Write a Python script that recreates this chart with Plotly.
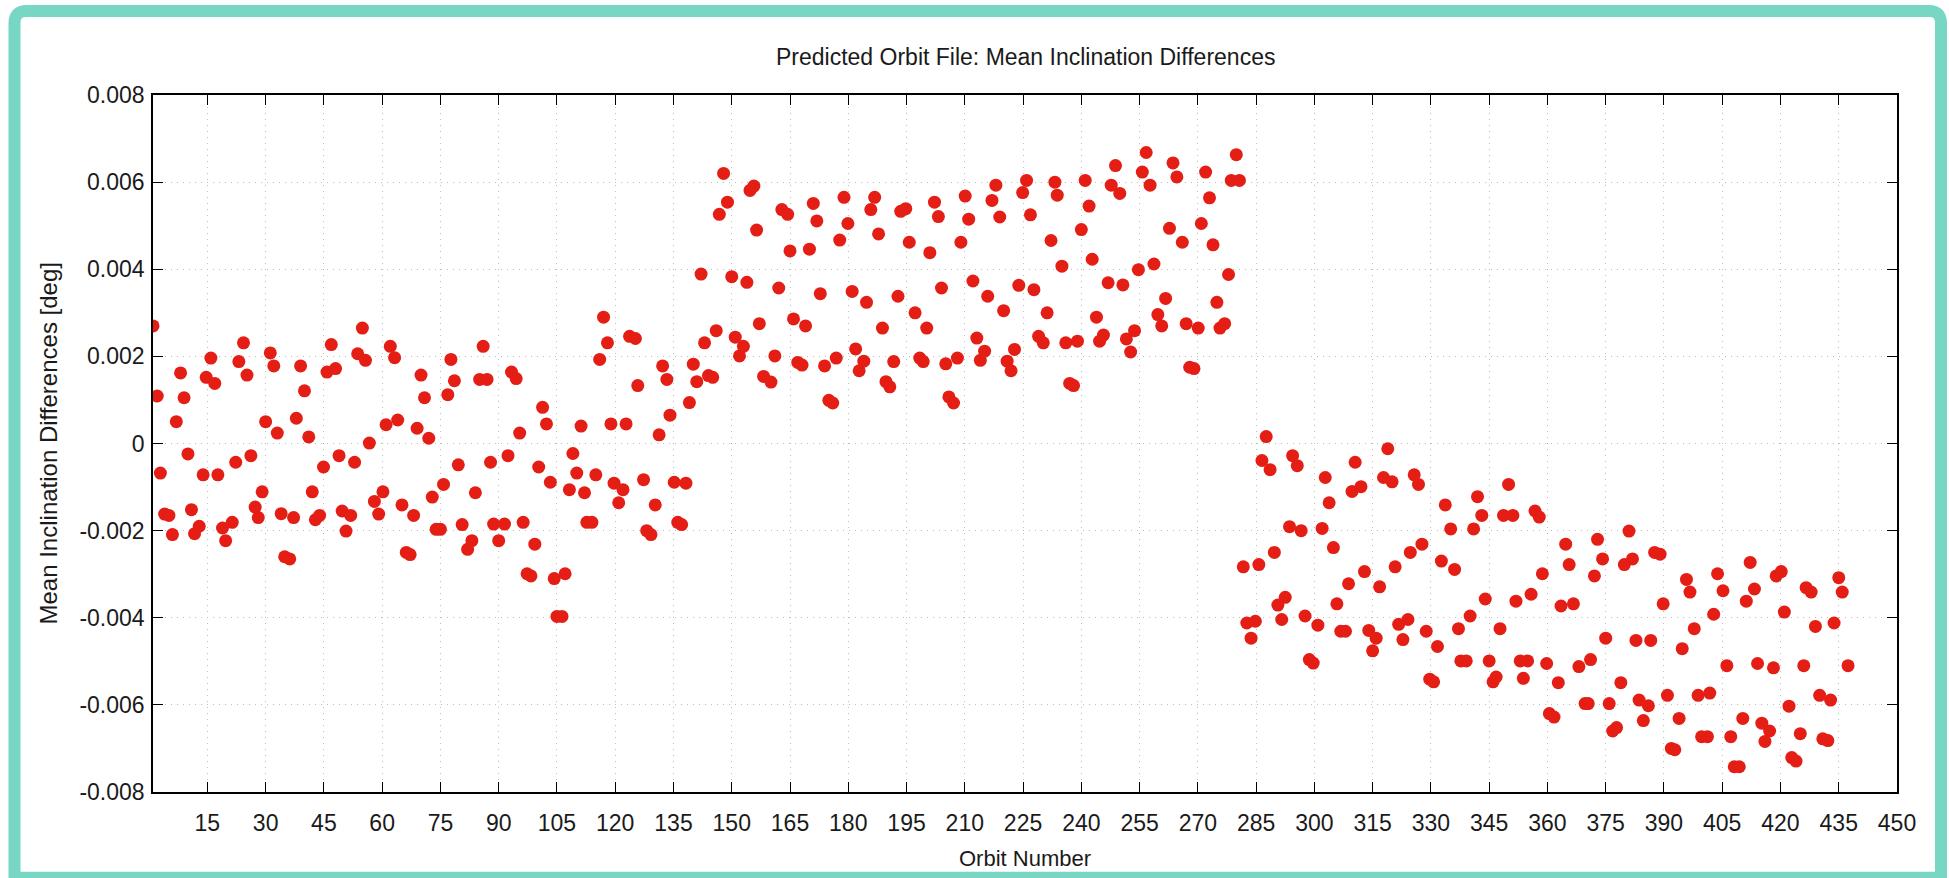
import plotly.graph_objects as go

# ---------------- data ----------------
# orbit number and mean-inclination difference in millidegrees
seg1_orbit = [1.0, 2.1, 2.9, 4.0, 5.1, 6.0, 7.0, 8.1, 9.0, 10.0, 10.9, 11.7, 12.9, 13.9, 14.7,
              15.9, 16.9, 17.7, 18.9, 19.7, 21.4, 22.3, 23.1, 24.3, 25.2, 26.2, 27.3, 28.1, 29.1,
              30.0, 31.2, 32.1, 33.0, 34.0, 34.9, 36.2, 37.2, 37.9, 39.0, 40.0, 41.1, 42.0, 42.8,
              43.9, 44.9, 45.8, 46.9, 48.0, 48.9, 49.7, 50.7, 51.9, 52.9, 53.7, 54.9, 55.7, 56.7,
              58.0, 59.1, 60.2, 61.0, 62.1, 63.2, 64.0, 65.1, 66.2, 67.2, 68.1, 69.0, 70.0, 70.9,
              72.0, 72.9, 73.9, 75.0, 75.8, 76.9, 77.7, 78.6, 79.6, 80.6, 82.0, 83.1, 84.0, 85.1,
              86.0, 87.0, 87.9, 88.7, 90.0, 91.5, 92.4, 93.3, 94.5, 95.4, 96.3, 97.3, 98.3, 99.3,
              100.3, 101.3, 102.3, 103.3, 104.3, 105.0, 106.3, 107.1, 108.2, 109.1, 110.1, 111.2,
              112.1, 112.7, 114.0, 115.0, 116.0, 117.0, 118.0, 118.9, 119.7, 120.9, 122.0, 122.8,
              123.7, 125.2, 125.8, 127.3, 128.1, 129.2, 130.3, 131.3, 132.2, 133.3, 134.1, 135.2,
              136.1, 137.1, 138.2, 139.1, 140.1, 141.0, 142.1, 143.0, 144.0, 145.1, 146.0]
seg1_mdeg = [2.70, 1.09, -0.68, -1.62, -1.65, -2.09, 0.50, 1.62, 1.05, -0.24, -1.52, -2.07, -1.90, -0.72, 1.52,
             1.96, 1.38, -0.72, -1.94, -2.23, -1.81, -0.43, 1.88, 2.31, 1.57, -0.28, -1.46, -1.70, -1.11,
             0.50, 2.08, 1.78, 0.24, -1.61, -2.60, -2.65, -1.70, 0.58, 1.78, 1.21, 0.15, -1.11, -1.75,
             -1.65, -0.54, 1.64, 2.27, 1.72, -0.28, -1.55, -2.01, -1.65, -0.43, 2.06, 2.65, 1.91, 0.01,
             -1.33, -1.62, -1.11, 0.43, 2.23, 1.97, 0.54, -1.41, -2.50, -2.55, -1.65, 0.35, 1.57, 1.05,
             0.12, -1.23, -1.97, -1.97, -0.94, 1.12, 1.93, 1.44, -0.49, -1.86, -2.43, -2.23, -1.13, 1.47,
             2.23, 1.47, -0.43, -1.85, -2.23, -1.85, -0.28, 1.64, 1.49, 0.24, -1.81, -2.99, -3.04, -2.31,
             -0.54, 0.83, 0.45, -0.89, -3.10, -3.97, -3.97, -2.99, -1.06, -0.23, -0.68, 0.40,
             -1.13, -1.81, -1.81, -0.72, 1.93, 2.90, 2.31, 0.45, -0.91, -1.36, -1.06, 0.45,
             2.46, 2.41, 1.33, -0.83, -2.00, -2.09, -1.41, 0.20, 1.78, 1.47, 0.65, -0.89,
             -1.81, -1.86, -0.91, 0.94, 1.82, 1.42, 3.89, 2.31, 1.56, 1.52, 2.59]

seg2_orbit = [146.8, 147.9, 148.9, 150.0, 150.9, 152.0, 153.0, 153.9, 154.7, 155.7, 156.4, 157.1, 158.2,
              160.1, 161.1, 162.1, 162.9, 164.4, 165.0, 165.9, 167.0, 168.1, 169.0, 170.0, 171.0, 171.9,
              172.8, 173.9, 175.0, 176.0, 176.9, 177.8, 178.9, 179.9, 181.0, 181.9, 182.8, 184.0, 184.7,
              185.8, 186.8, 187.8, 188.8, 189.7, 190.7, 191.7, 192.8, 193.5, 194.8, 195.7, 197.2, 198.4,
              199.3, 200.2, 201.0, 202.2, 203.2, 204.0, 205.1, 205.9, 207.1, 208.1, 209.0, 210.1, 211.0,
              212.1, 213.1, 214.0, 215.1, 215.9, 217.0, 218.0, 219.0, 220.0, 220.9, 221.9, 222.8, 223.9,
              224.9, 225.9, 226.9, 227.8, 229.0, 230.2, 231.2, 232.2, 233.2, 233.8, 235.0, 236.0, 237.0,
              238.0, 239.0, 240.0, 241.0, 242.0, 242.8, 243.9, 244.7, 245.7, 246.9, 247.7, 248.8, 249.9,
              250.7, 251.6, 252.7, 253.7, 254.7, 255.7, 256.7, 257.7, 258.7, 259.7, 260.7, 261.7, 262.7,
              263.6, 264.6, 266.0, 267.0, 267.9, 269.0, 270.1, 270.9, 272.0, 273.0, 273.9, 274.9, 275.7,
              276.9, 277.9, 278.6, 279.9, 280.7]
seg2_mdeg = [5.26, 6.20, 5.54, 3.83, 2.44, 2.01, 2.23, 3.70, 5.81, 5.91, 4.90, 2.75, 1.54,
             1.41, 2.01, 3.57, 5.37, 5.26, 4.42, 2.86, 1.86, 1.80, 2.70, 4.46, 5.51, 5.11,
             3.44, 1.78, 0.99, 0.93, 1.96, 4.67, 5.65, 5.05, 3.49, 2.17, 1.67, 1.89, 3.24,
             5.37, 5.65, 4.81, 2.65, 1.42, 1.30, 1.88, 3.38, 5.33, 5.39, 4.62, 3.00, 1.96,
             1.88, 2.65, 4.38, 5.54, 5.21, 3.57, 1.83, 1.07, 0.93, 1.96, 4.62, 5.68, 5.15,
             3.73, 2.42, 1.91, 2.12, 3.38, 5.58, 5.93, 5.20, 3.05, 1.89, 1.67, 2.16, 3.63,
             5.76, 6.04, 5.25, 3.53, 2.46, 2.31, 3.00, 4.66, 6.00, 5.70, 4.07, 2.31, 1.38,
             1.33, 2.35, 4.91, 6.04, 5.45, 4.23, 2.90, 2.35, 2.49, 3.69, 5.93, 6.38, 5.74,
             3.64, 2.40, 2.10, 2.59, 3.99, 6.23, 6.68, 5.93, 4.12, 2.96, 2.70, 3.33, 4.94,
             6.44, 6.12, 4.62, 2.75, 1.75, 1.72, 2.65, 5.05, 6.23, 5.64, 4.56, 3.24, 2.65,
             2.75, 3.88, 6.04, 6.63, 6.04]

seg3_orbit = [281.7, 282.6, 283.7, 284.8, 285.7, 286.5, 287.6, 288.6, 289.7, 290.6, 291.6, 292.5, 293.6,
              294.4, 295.6, 296.6, 297.6, 298.7, 299.7, 300.9, 302.0, 302.8, 303.8, 304.9, 305.8, 306.8,
              308.0, 308.8, 309.7, 310.5, 312.0, 312.9, 314.0, 315.0, 315.9, 316.8, 317.8, 318.9, 320.0,
              320.8, 321.7, 322.8, 324.1, 324.7, 325.7, 326.8, 327.7, 328.8, 329.7, 330.7, 331.7, 332.7,
              333.7, 335.1, 336.1, 337.1, 337.7, 339.1, 340.1, 341.0, 342.0, 343.1, 344.0, 345.0, 346.0,
              346.8, 347.8, 348.7, 350.0, 351.1, 351.9, 353.0, 353.8, 354.9, 355.8, 356.8, 357.9, 358.7,
              359.8, 360.5, 361.7, 362.8, 363.5, 364.7, 365.6, 366.7, 368.1, 369.7, 370.5, 371.1, 372.1,
              372.9, 374.2, 375.0, 375.9, 376.8, 377.8, 378.9, 379.8, 381.0, 381.9, 382.8, 383.6, 384.7,
              386.0, 386.6, 387.6, 389.0, 389.8, 390.9, 391.9, 392.8, 393.9, 394.7, 395.8, 396.7, 397.8,
              398.8, 399.7, 401.2, 401.8, 402.8, 403.8, 405.2, 406.2, 407.2, 408.1, 409.4, 410.3, 411.2,
              412.2, 413.3, 414.1, 415.2, 416.0, 417.2, 418.2, 418.9, 420.2, 421.0, 422.2, 422.9, 424.0,
              425.1, 426.0, 426.6, 427.9, 429.0, 430.1, 430.9, 432.2, 432.9, 433.8, 435.0, 435.9, 437.4]
seg3_mdeg = [-2.83, -4.12, -4.47, -4.08, -2.78, -0.39, 0.16, -0.60, -2.50, -3.71, -4.04, -3.53, -1.91,
             -0.28, -0.51, -2.00, -3.96, -4.96, -5.04, -4.17, -1.95, -0.78, -1.36, -2.39, -3.68, -4.31,
             -4.31, -3.22, -1.10, -0.43, -0.99, -2.94, -4.29, -4.76, -4.47, -3.29, -0.78, -0.12, -0.88,
             -2.83, -4.15, -4.50, -4.04, -2.50, -0.72, -0.94, -2.31, -4.31, -5.41, -5.47, -4.66, -2.70,
             -1.41, -1.96, -2.89, -4.25, -4.99, -4.99, -3.96, -1.96, -1.22, -1.65, -3.57, -4.99, -5.47,
             -5.36, -4.25, -1.65, -0.94, -1.65, -3.62, -4.99, -5.39, -4.99, -3.46, -1.55, -1.69, -2.99,
             -5.05, -6.20, -6.28, -5.49, -3.73, -2.31, -2.78, -3.68, -5.12, -5.97, -5.97, -4.96, -3.04,
             -2.20, -2.65, -4.47, -5.97, -6.60, -6.52, -5.49, -2.78, -2.01, -2.65, -4.52, -5.89, -6.36,
             -6.02, -4.52, -2.50, -2.54, -3.68, -5.78, -7.00, -7.03, -6.31, -4.71, -3.12, -3.41, -4.25,
             -5.78, -6.73, -6.73, -5.73, -3.92, -2.99, -3.38, -5.10, -6.73, -7.42, -7.42, -6.31, -3.62,
             -2.73, -3.34, -5.05, -6.42, -6.84, -6.60, -5.15, -3.04, -2.94, -3.87, -6.03, -7.21, -7.29,
             -6.66, -5.10, -3.31, -3.41, -4.20, -5.78, -6.78, -6.82, -5.89, -4.12, -3.08, -3.41, -5.10]

x_ticks = list(range(15, 451, 15))
y_tickvals = [-0.008, -0.006, -0.004, -0.002, 0.0, 0.002, 0.004, 0.006, 0.008]
y_ticktext = ["-0.008", "-0.006", "-0.004", "-0.002", "0", "0.002", "0.004", "0.006", "0.008"]

title_text = "Predicted Orbit File: Mean Inclination Differences"
x_title = "Orbit Number"
y_title = "Mean Inclination Differences [deg]"

# ---------------- figure ----------------
W, H = 1949, 878
L, R, T, B = 153, 52, 95, 86
PW, PH = W - L - R, H - T - B
FONT = "Liberation Sans, Arial, Helvetica, sans-serif"
RED = "rgb(228,30,20)"
TEAL = "#77d7c4"
TXT = "#1a1a1a"


def fx(px):
    return (px - L) / PW


def fy(py):
    return (H - B - py) / PH


orbits = seg1_orbit + seg2_orbit + seg3_orbit
values = [v / 1000.0 for v in seg1_mdeg + seg2_mdeg + seg3_mdeg]

fig = go.Figure()
fig.add_trace(go.Scatter(
    x=orbits, y=values, mode="markers",
    marker=dict(color=RED, size=13, line=dict(width=0)),
    showlegend=False, cliponaxis=True,
))

axis_common = dict(
    showline=True, linecolor="black", linewidth=1.5, mirror="ticks",
    ticks="inside", ticklen=10, tickwidth=1.2, tickcolor="black",
    showgrid=True, gridcolor="#bdbdbd", gridwidth=1, griddash="1px,5px",
    zeroline=False,
    tickfont=dict(family=FONT, size=23, color=TXT),
)

fig.update_xaxes(range=[1, 450], tickmode="array", tickvals=x_ticks,
                 ticktext=[str(t) for t in x_ticks], ticklabelstandoff=10, **axis_common)
fig.update_yaxes(range=[-0.008, 0.008], tickmode="array", tickvals=y_tickvals,
                 ticktext=y_ticktext, ticklabelstandoff=2, **axis_common)

# teal rounded frame
x0, x1, y0, y1, r = 14.5, 1941.0, 11.0, 877.7, 12.0
path = (f"M {fx(x0)},{fy(y1)} L {fx(x0)},{fy(y0 + r)} Q {fx(x0)},{fy(y0)} {fx(x0 + r)},{fy(y0)} "
        f"L {fx(x1 - r)},{fy(y0)} Q {fx(x1)},{fy(y0)} {fx(x1)},{fy(y0 + r)} L {fx(x1)},{fy(y1)} Z")
fig.add_shape(type="path", path=path, xref="paper", yref="paper",
              line=dict(color=TEAL, width=12), fillcolor="rgba(0,0,0,0)", layer="above")

annotations = [
    dict(text=title_text, x=0.5, y=fy(57), xref="paper", yref="paper", showarrow=False,
         xanchor="center", yanchor="middle", font=dict(family=FONT, size=23, color=TXT)),
    dict(text=x_title, x=0.5, y=fy(858), xref="paper", yref="paper", showarrow=False,
         xanchor="center", yanchor="middle", font=dict(family=FONT, size=22, color=TXT)),
    dict(text=y_title, x=fx(48), y=0.5, xref="paper", yref="paper", showarrow=False,
         textangle=-90, xanchor="center", yanchor="middle",
         font=dict(family=FONT, size=24, color=TXT)),
]

fig.update_layout(
    width=W, height=H, autosize=False,
    margin=dict(l=L, r=R, t=T, b=B, pad=0),
    paper_bgcolor="white", plot_bgcolor="white",
    annotations=annotations,
)

fig.write_html("out.html", include_plotlyjs=True, full_html=True,
               config={"displayModeBar": False, "responsive": False},
               post_script="document.body.style.margin='0';document.body.style.overflow='hidden';")
